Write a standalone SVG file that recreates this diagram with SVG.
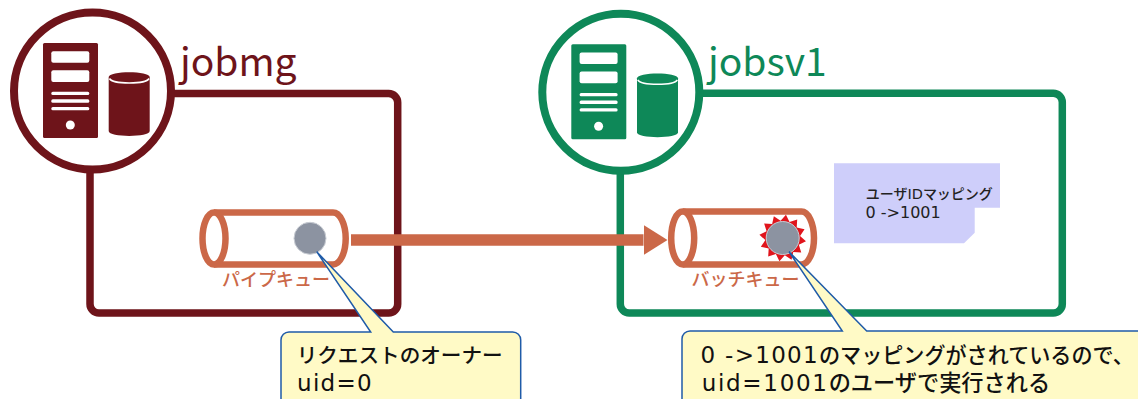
<svg xmlns="http://www.w3.org/2000/svg" xmlns:xlink="http://www.w3.org/1999/xlink" width="1138" height="399" viewBox="0 0 1138 399">
<style>
text{font-family:"Noto Sans CJK JP","Noto Sans",sans-serif;}
.red{color:#6E141A}.green{color:#0E8858}
.box{fill:none;stroke:currentColor;stroke-width:7.5}
.ring{fill:#fff;stroke:currentColor;stroke-width:8}
.host{font-size:39px;fill:currentColor}
.pipe{fill:#fff;stroke:#CB6848;stroke-width:6.5}
.plabel{font-size:18px;fill:#CB6848;font-weight:500}
.ball{fill:#8C93A1;stroke:#C9CDD4;stroke-width:1}
.call{fill:#FFFAC6;stroke:#1F5BA8;stroke-width:1.5}
.ct{font-size:21.1px;fill:#111;font-weight:500}
.nt{font-size:14px;fill:#222;font-weight:500}
.lat{font-family:"DejaVu Sans",sans-serif;font-weight:400;font-size:23px;letter-spacing:1.3px}
</style>
<defs>
<g id="icon">
<rect x="43" y="43" width="55" height="95" rx="1.5" fill="currentColor"/>
<g fill="#fff">
<rect x="51.3" y="51.3" width="38" height="11.4" rx="2"/>
<rect x="51.3" y="70.3" width="38" height="11.7" rx="2"/>
<rect x="51.3" y="91.7" width="38" height="3.3" rx="1.5"/>
<rect x="51.3" y="99.3" width="38" height="3.4" rx="1.5"/>
<rect x="51.3" y="107" width="38" height="3.3" rx="1.5"/>
<circle cx="70.3" cy="125" r="4.5"/>
</g>
<path d="M108.7 77C108.7 70.5 149.7 70.5 149.7 77V131C149.7 137.5 108.7 137.5 108.7 131Z" fill="currentColor"/>
<path d="M109.5 78.5C113 84.5 145.5 84.5 149 78.5" fill="none" stroke="#fff" stroke-width="1.6"/>
</g>
<marker id="head" markerUnits="userSpaceOnUse" markerWidth="24" markerHeight="30" refX="0" refY="15" orient="auto">
<path d="M0 0L24 15L0 30Z" fill="#CB6848"/>
</marker>
</defs>

<g id="node-jobmg" class="red">
<rect class="box" x="90" y="93.6" width="307.7" height="219.4" rx="9"/>
<circle class="ring" cx="92.5" cy="91" r="78.5"/>
<use xlink:href="#icon" href="#icon"/>
<text class="host" x="180" y="76">jobmg</text>
</g>

<g id="node-jobsv1" class="green">
<rect class="box" x="620.3" y="93.3" width="442" height="219.7" rx="9"/>
<circle class="ring" cx="620.8" cy="92.3" r="78.5"/>
<use xlink:href="#icon" href="#icon" transform="translate(528.3 1.3)"/>
<text class="host" x="708" y="76">jobsv1</text>
</g>

<g id="node-mapping">
<path d="M834 163.3H1000V207.7H974.7V232.7L964 243.3H834Z" fill="#CECEFA"/>
<text class="nt" x="865.7" y="199">ユーザ<tspan style="font-family:'DejaVu Sans',sans-serif;font-size:14.5px">ID</tspan>マッピング</text>
<text class="nt" x="865.5" y="218" style="font-family:'DejaVu Sans',sans-serif;font-size:16px;font-weight:400">0 -&gt;1001</text>
</g>

<g id="connectors">
<line x1="351" y1="240" x2="643.5" y2="240" stroke="#CB6848" stroke-width="11.5" marker-end="url(#head)"/>
</g>

<g id="node-pipe-queue">
<path class="pipe" d="M214 212.5H333A12.7 26 0 0 1 333 264.5H214"/>
<ellipse class="pipe" cx="214" cy="238.5" rx="11.5" ry="26"/>
<circle class="ball" cx="310" cy="238.3" r="16"/>
<text class="plabel" x="222" y="286">パイプキュー</text>
</g>

<g id="node-batch-queue">
<path class="pipe" d="M683 211.5H801.5A12.5 26.5 0 0 1 801.5 264.5H683"/>
<ellipse class="pipe" cx="682.7" cy="238" rx="11.5" ry="26.5"/>
<polygon transform="translate(782.7 238) rotate(8)" fill="#E0141C" points="23.5,0 16.9,4.5 20.4,11.8 12.4,12.4 11.8,20.4 4.5,16.9 0,23.5 -4.5,16.9 -11.8,20.4 -12.4,12.4 -20.4,11.8 -16.9,4.5 -23.5,0 -16.9,-4.5 -20.4,-11.8 -12.4,-12.4 -11.8,-20.4 -4.5,-16.9 0,-23.5 4.5,-16.9 11.8,-20.4 12.4,-12.4 20.4,-11.8 16.9,-4.5"/>
<circle class="ball" cx="782.7" cy="238" r="16.5"/>
<text class="plabel" x="691.5" y="286">バッチキュー</text>
</g>

<g id="node-callout-owner">
<path class="call" d="M289 332H370.7L316.7 251.7L393.3 332H512.7A8 8 0 0 1 520.7 340V420H281V340A8 8 0 0 1 289 332Z"/>
<text class="ct" x="296.7" y="362.7" style="font-size:20.6px">リクエストのオーナー</text>
<text class="ct" x="297" y="390.5"><tspan class="lat">uid=0</tspan></text>
</g>

<g id="node-callout-mapping">
<path class="call" d="M690 331H842.3L789 251.7L866.7 331H1150V420H682V339A8 8 0 0 1 690 331Z"/>
<text class="ct" x="700.5" y="362.7"><tspan class="lat">0 -&gt;1001</tspan>のマッピングがされているので、</text>
<text class="ct" x="701.7" y="390.7" style="font-size:22.2px"><tspan class="lat" style="letter-spacing:1.7px">uid=1001</tspan>のユーザで実行される</text>
</g>
</svg>
